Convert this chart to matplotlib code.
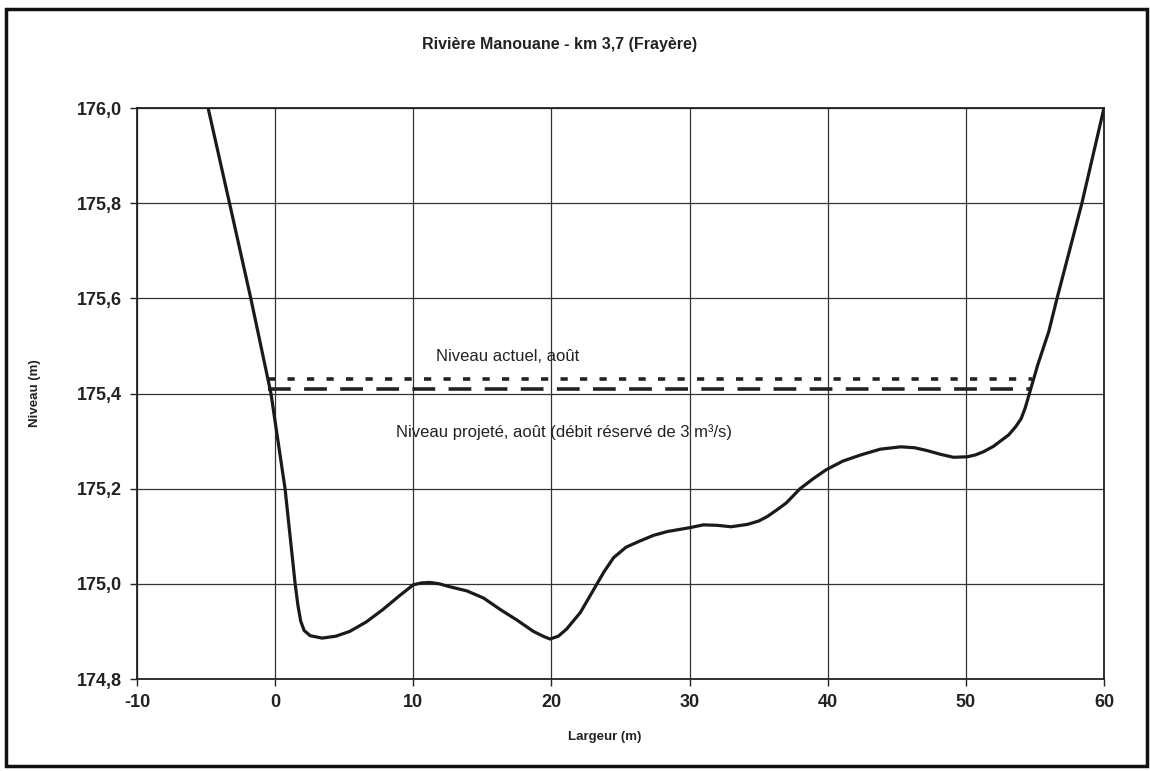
import matplotlib
matplotlib.use("Agg")
import matplotlib.pyplot as plt
from matplotlib.patches import Rectangle

plt.rcParams['font.family'] = ['Liberation Sans', 'DejaVu Sans']
plt.rcParams['axes.unicode_minus'] = False

# cross-section profile
largeur = [-4.85, -3.3, -1.76, -0.3, 0.72, 1.45, 1.65, 1.85, 2.1, 2.54, 3.4,
           4.4, 5.4, 6.6, 7.8, 9.0, 10.0, 10.6, 11.2, 11.9, 12.5, 13.9, 15.1,
           16.3, 17.5, 18.7, 19.4, 19.9, 20.5, 21.1, 22.1, 23.0, 23.8, 24.5,
           25.4, 26.4, 27.4, 28.4, 30.0, 31.0, 32.0, 33.0, 34.2, 35.0, 35.6,
           36.3, 37.0, 38.0, 39.0, 39.9, 41.1, 42.4, 43.8, 45.3, 46.3, 47.2,
           48.2, 49.1, 50.1, 50.7, 51.3, 52.0, 52.5, 53.1, 53.6, 54.0, 54.3,
           54.7, 55.2, 56.0, 56.6, 57.5, 58.4, 60.0]
niveau = [176.0, 175.8, 175.6, 175.4, 175.2, 175.0, 174.955, 174.922, 174.902,
          174.891, 174.886, 174.89, 174.90, 174.92, 174.946, 174.975, 174.998,
          175.002, 175.003, 175.0, 174.995, 174.985, 174.97, 174.946, 174.924,
          174.90, 174.89, 174.884, 174.89, 174.905, 174.94, 174.985, 175.025,
          175.055, 175.077, 175.09, 175.102, 175.11, 175.118, 175.124, 175.123,
          175.12, 175.125, 175.132, 175.141, 175.155, 175.17, 175.2, 175.222,
          175.24, 175.258, 175.271, 175.283, 175.288, 175.286, 175.28, 175.272,
          175.266, 175.267, 175.271, 175.278, 175.289, 175.30, 175.313, 175.33,
          175.347, 175.37, 175.41, 175.46, 175.53, 175.6, 175.7, 175.8, 176.0]

# water levels
x_eau = [-0.5, 54.8]
niveau_actuel = [175.43, 175.43]
niveau_projete = [175.41, 175.41]

xticks = [-10, 0, 10, 20, 30, 40, 50, 60]
yticks = [174.8, 175.0, 175.2, 175.4, 175.6, 175.8, 176.0]
ytick_labels = ['174,8', '175,0', '175,2', '175,4', '175,6', '175,8', '176,0']

fig = plt.figure(figsize=(11.5, 7.71), dpi=100)
ax = fig.add_axes([0.1191, 0.1193, 0.8409, 0.7406])

ax.plot(x_eau, niveau_actuel, color='#222222', lw=2.6, dashes=(2.0, 3.4))
ax.plot(x_eau, niveau_projete, color='#222222', lw=2.6, dashes=(6.3, 3.7))
ax.plot(largeur, niveau, color='#1a1a1a', lw=2.3, solid_joinstyle='round')

ax.set_xlim(-10, 60)
ax.set_ylim(174.8, 176.0)
ax.set_xticks(xticks)
ax.set_yticks(yticks)
ax.set_yticklabels(ytick_labels)
ax.grid(True, color='#333333', lw=0.9)
ax.set_axisbelow(True)
for s in ax.spines.values():
    s.set_color('#222222')
    s.set_linewidth(1.3)
ax.tick_params(direction='out', length=5, width=1, color='#222222',
               labelsize=13, pad=6)
for lbl in ax.get_xticklabels() + ax.get_yticklabels():
    lbl.set_fontweight('bold')
    lbl.set_color('#222222')

ax.text(16.8, 175.478, 'Niveau actuel, août', fontsize=12, ha='center',
        va='center', color='#222222')
ax.text(20.9, 175.318, 'Niveau projeté, août (débit réservé de 3 m³/s)',
        fontsize=12, ha='center', va='center', color='#222222')

fig.text(560 / 1150, 1 - 45 / 771, 'Rivière Manouane - km 3,7 (Frayère)',
         fontsize=11.5, fontweight='bold', ha='center', va='center', color='#222222')
fig.text(605 / 1150, 1 - 737 / 771, 'Largeur (m)', fontsize=9.5,
         fontweight='bold', ha='center', va='center', color='#222222')
fig.text(35 / 1150, 1 - 393 / 771, 'Niveau (m)', fontsize=9.5, rotation=90,
         fontweight='bold', ha='center', va='center', color='#222222')

# outer frame of the scanned page
fig.patches.append(Rectangle((6 / 1150, 1 - 766 / 771), 1141 / 1150, 757 / 771,
                             transform=fig.transFigure, fill=False,
                             edgecolor='#111111', lw=2.5))

fig.savefig('out.png', dpi=100)
plt.close(fig)
